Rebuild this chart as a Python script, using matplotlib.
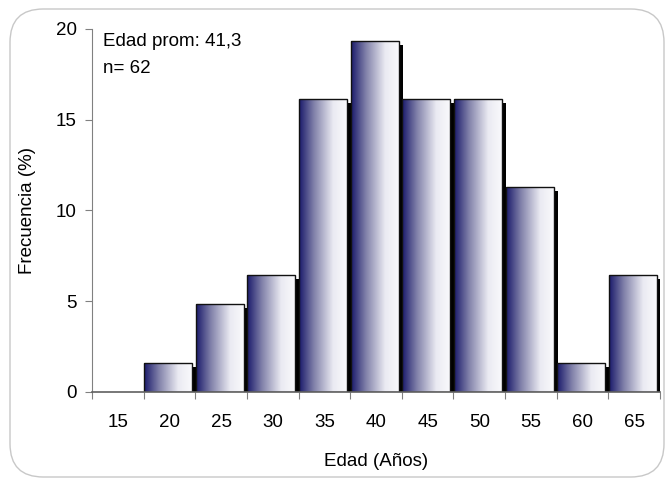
import matplotlib
matplotlib.use("Agg")
import matplotlib.pyplot as plt
import numpy as np
from matplotlib.patches import Rectangle, FancyBboxPatch
from matplotlib.colors import LinearSegmentedColormap

categories = ["15", "20", "25", "30", "35", "40", "45", "50", "55", "60", "65"]
frecuencia = [0.0, 1.61, 4.84, 6.45, 16.13, 19.35, 16.13, 16.13, 11.29, 1.61, 6.45]
yticks = [0, 5, 10, 15, 20]

plt.rcParams['font.family'] = ['Liberation Sans', 'DejaVu Sans']
FS = 13.5

fig = plt.figure(figsize=(6.65, 4.79), dpi=100)
fig.patches.append(FancyBboxPatch((10/665, 2/479), 654/665, 468/479,
                                  boxstyle="round,pad=0,rounding_size=0.05",
                                  transform=fig.transFigure, fill=False,
                                  edgecolor="#c8c8c8", linewidth=1.0,
                                  mutation_aspect=665/479))
ax = fig.add_axes([92/665, 1 - 392/479, 568/665, (392 - 29)/479])

cmap = LinearSegmentedColormap.from_list(
    "navy", [(0.0, (0.10, 0.10, 0.42)), (0.30, (0.50, 0.50, 0.66)),
             (0.70, (0.92, 0.92, 0.95)), (1.0, (0.98, 0.98, 0.99))])
grad = np.linspace(0, 1, 256).reshape(1, -1)

x = np.arange(len(categories))
bw = 0.93
dx = 0.075
dy = 0.22
for xi, h in zip(x, frecuencia):
    if h <= 0:
        continue
    left = xi - 0.5 + 0.01
    # shadow
    ax.add_patch(Rectangle((left + dx, 0), bw, h - dy, facecolor="black",
                           edgecolor="none", zorder=1))
    rect = Rectangle((left, 0), bw, h, facecolor="none", edgecolor="#111111",
                     linewidth=1.0, zorder=3)
    ax.add_patch(rect)
    im = ax.imshow(grad, cmap=cmap, aspect="auto",
                   extent=(left, left + bw, 0, h), zorder=2,
                   interpolation="bilinear")
    im.set_clip_path(rect)

ax.set_xlim(-0.5, len(categories) - 0.5)
ax.set_ylim(0, 20)
ax.set_yticks(yticks)
ax.set_yticklabels([str(v) for v in yticks], fontsize=FS)
ax.set_xticks(np.arange(len(categories) + 1) - 0.5)
ax.set_xticklabels([])
ax.set_xticks(x, minor=True)
ax.set_xticklabels(categories, minor=True, fontsize=FS)
ax.tick_params(axis="x", which="major", length=5, color="#808080", direction="out")
ax.tick_params(axis="x", which="minor", length=0, pad=16)
ax.tick_params(axis="y", length=5, color="#808080", pad=6)
for s in ["top", "right"]:
    ax.spines[s].set_visible(False)
ax.spines["left"].set_color("#808080")
ax.spines["bottom"].set_color("#606060")
ax.spines["bottom"].set_linewidth(1.2)
ax.spines["bottom"].set_zorder(5)

ax.set_ylabel("Frecuencia (%)", fontsize=FS, labelpad=14)
ax.set_xlabel("Edad (Años)", fontsize=FS, labelpad=16)

ax.text(0.02, 0.99, "Edad prom: 41,3", transform=ax.transAxes, fontsize=FS,
        va="top", ha="left")
ax.text(0.02, 0.915, "n= 62", transform=ax.transAxes, fontsize=FS,
        va="top", ha="left")

fig.savefig("out.png", dpi=100)
